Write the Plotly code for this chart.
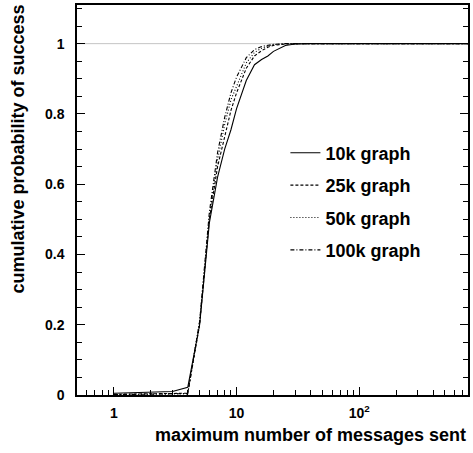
import plotly.graph_objects as go

# data
x_msgs = [1, 2, 3, 4, 5, 6, 7, 8, 9, 10, 12, 14, 16, 18, 20, 25, 30, 40, 60, 100, 200, 400, 800]
y_10k = [0.005, 0.007, 0.010, 0.022, 0.20, 0.49, 0.62, 0.70, 0.755, 0.815, 0.895, 0.94, 0.955, 0.965, 0.978, 0.995, 0.999, 1, 1, 1, 1, 1, 1]
y_25k = [0.002, 0.003, 0.004, 0.005, 0.20, 0.50, 0.65, 0.74, 0.81, 0.86, 0.93, 0.965, 0.98, 0.99, 0.995, 0.999, 1, 1, 1, 1, 1, 1, 1]
y_50k = [0.001, 0.002, 0.003, 0.004, 0.21, 0.51, 0.67, 0.77, 0.84, 0.88, 0.945, 0.975, 0.987, 0.993, 0.997, 1, 1, 1, 1, 1, 1, 1, 1]
y_100k = [0.001, 0.002, 0.003, 0.004, 0.21, 0.52, 0.69, 0.79, 0.86, 0.905, 0.96, 0.983, 0.992, 0.996, 0.998, 1, 1, 1, 1, 1, 1, 1, 1]

series_names = ["10k graph", "25k graph", "50k graph", "100k graph"]
series_vals = [y_10k, y_25k, y_50k, y_100k]
dashes = ["solid", "3px,2px", "1px,2px", "4px,2px,1px,2px"]

x_tickvals = [1, 10, 100]
x_ticktext = ["1", "10", "10<sup>2</sup>"]
x_minor = [0.6, 0.7, 0.8, 0.9] + [d for d in range(2, 10)] + [d * 10 for d in range(2, 10)] + [d * 100 for d in range(2, 8)]
y_tickvals = [0, 0.2, 0.4, 0.6, 0.8, 1]
y_ticktext = ["0", "0.2", "0.4", "0.6", "0.8", "1"]

fig = go.Figure()
for i, (name, vals, dash) in enumerate(zip(series_names, series_vals, dashes)):
    fig.add_trace(go.Scatter(x=x_msgs, y=vals, mode="lines", name=name,
                             legendgroup=name,
                             line=dict(color="black", width=1.1, dash=dash)))

font_family = "Liberation Sans, Arial, Helvetica, sans-serif"

fig.update_layout(
    width=473, height=453,
    margin=dict(l=77, r=5, t=5, b=58),
    paper_bgcolor="white", plot_bgcolor="white",
    font=dict(family=font_family, size=14, color="black", weight="bold"),
    showlegend=True,
    legend=dict(x=0.533, y=0.668, xanchor="left", yanchor="top",
                bgcolor="rgba(0,0,0,0)", font=dict(size=18, weight="bold"),
                tracegroupgap=6, itemwidth=30),
    xaxis=dict(type="log", range=[-0.301, 2.887], automargin=False,
               tickvals=x_tickvals, ticktext=x_ticktext,
               ticks="inside", ticklen=8, tickwidth=1, tickcolor="black",
               showline=True, linecolor="black", linewidth=1.5, mirror=True,
               showgrid=False, zeroline=False,
               minor=dict(tickvals=x_minor, ticks="inside", ticklen=5, tickcolor="black", showgrid=False),
               tickfont=dict(size=14, weight="bold"), ticklabelstandoff=4),
    yaxis=dict(range=[0, 1.11], automargin=False,
               tickvals=y_tickvals, ticktext=y_ticktext,
               ticks="inside", ticklen=8, tickwidth=1, tickcolor="black",
               showline=True, linecolor="black", linewidth=1.5, mirror="ticks",
               showgrid=False, zeroline=False,
               minor=dict(dtick=0.05, tick0=0, ticks="inside", ticklen=5, tickcolor="black", showgrid=False),
               tickfont=dict(size=14, weight="bold"), ticklabelstandoff=8),
    shapes=[dict(type="line", xref="paper", yref="y", x0=0, x1=1, y0=1, y1=1,
                 line=dict(color="#c4c4c4", width=1), layer="below")],
    annotations=[
        dict(text="cumulative probability of success", xref="paper", yref="paper",
             x=-0.151, y=0.632, xanchor="center", yanchor="middle", textangle=-90,
             showarrow=False, font=dict(size=18, weight="bold")),
        dict(text="maximum number of messages sent", xref="paper", yref="paper",
             x=1.0, y=-0.1026, xanchor="right", yanchor="middle",
             showarrow=False, font=dict(size=18, weight="bold")),
    ],
)

fig.write_html("out.html", config={"displayModeBar": False},
               post_script="document.body.style.margin='0px';document.body.style.overflow='hidden';")
